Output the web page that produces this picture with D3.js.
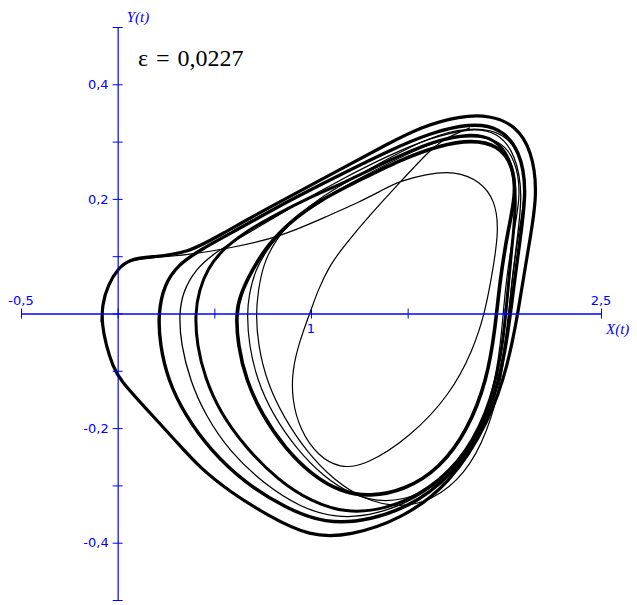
<!DOCTYPE html>
<html>
<head>
<meta charset="utf-8">
<script src="https://cdn.jsdelivr.net/npm/d3@7"></script>
<style>
body { margin: 0; background: #fff; }
</style>
</head>
<body>
<div id="svgContainer"></div>
<script>
// axis ticks and labels
var xTicks = [-0.5, 0, 0.5, 1, 1.5, 2, 2.5];
var xLabelValues = [-0.5, 1, 2.5];
var xLabelTexts = ["-0,5", "1", "2,5"];
var yTicks = [-0.5, -0.4, -0.3, -0.2, -0.1, 0, 0.1, 0.2, 0.3, 0.4, 0.5];
var yLabelValues = [0.4, 0.2, -0.2, -0.4];
var yLabelTexts = ["0,4", "0,2", "-0,2", "-0,4"];
var epsLabel = "\u03b5 = 0,0227";

// loops of the trajectory as [X, Y]
var loopOuter = [[0.359,0.104],[0.167,0.099],[0.064,0.095],[0.002,0.079],[-0.050,0.050],[-0.081,0.015],[-0.081,-0.020],[-0.060,-0.055],[-0.024,-0.093],[0.012,-0.116],[0.152,-0.168],[0.297,-0.221],[0.426,-0.270],[0.581,-0.311],[0.772,-0.352],[0.995,-0.390],[1.202,-0.388],[1.460,-0.360],[1.719,-0.299],[1.926,-0.186],[2.019,-0.090],[2.071,0.001],[2.122,0.111],[2.174,0.207],[2.143,0.285],[2.055,0.329],[1.926,0.346],[1.771,0.345],[1.564,0.325],[1.408,0.298],[1.098,0.242],[0.762,0.181],[0.555,0.142]];
var loopB = [[0.209,-0.001],[0.219,-0.055],[0.260,-0.116],[0.348,-0.177],[0.478,-0.238],[0.659,-0.296],[0.865,-0.339],[1.072,-0.367],[1.305,-0.362],[1.564,-0.329],[1.781,-0.264],[1.936,-0.168],[2.008,-0.064],[2.040,0.024],[2.081,0.128],[2.117,0.216],[2.081,0.285],[1.977,0.325],[1.822,0.332],[1.615,0.315],[1.408,0.285],[1.150,0.242],[0.891,0.198],[0.633,0.149],[0.426,0.111],[0.312,0.085],[0.240,0.050]];
var loopC = [[0.317,-0.001],[0.328,-0.055],[0.374,-0.116],[0.452,-0.177],[0.581,-0.242],[0.762,-0.299],[0.943,-0.338],[1.124,-0.357],[1.331,-0.353],[1.590,-0.317],[1.796,-0.252],[1.941,-0.160],[2.003,-0.064],[2.029,0.024],[2.065,0.128],[2.096,0.207],[2.060,0.277],[1.967,0.317],[1.822,0.324],[1.615,0.306],[1.408,0.277],[1.150,0.233],[0.917,0.189],[0.684,0.142],[0.503,0.107],[0.400,0.076],[0.338,0.038]];
var loopD = [[0.400,-0.001],[0.410,-0.055],[0.452,-0.113],[0.529,-0.172],[0.659,-0.233],[0.829,-0.291],[1.005,-0.329],[1.176,-0.348],[1.383,-0.343],[1.615,-0.308],[1.812,-0.242],[1.936,-0.151],[1.993,-0.055],[2.014,0.024],[2.040,0.120],[2.065,0.198],[2.040,0.268],[1.952,0.306],[1.812,0.315],[1.615,0.299],[1.408,0.268],[1.176,0.229],[0.995,0.203],[0.814,0.172],[0.659,0.142],[0.540,0.111],[0.467,0.079],[0.421,0.041]];
var loopE = [[0.612,-0.001],[0.622,-0.055],[0.664,-0.116],[0.747,-0.177],[0.865,-0.235],[1.005,-0.282],[1.150,-0.311],[1.305,-0.320],[1.486,-0.308],[1.667,-0.270],[1.812,-0.203],[1.910,-0.116],[1.952,-0.029],[1.977,0.058],[2.019,0.146],[2.060,0.207],[2.045,0.259],[1.967,0.294],[1.833,0.303],[1.667,0.294],[1.460,0.268],[1.253,0.233],[1.046,0.198],[0.891,0.160],[0.777,0.120],[0.695,0.076],[0.633,0.032]];
var loopF = [[0.669,-0.001],[0.679,-0.055],[0.721,-0.116],[0.803,-0.177],[0.922,-0.235],[1.062,-0.284],[1.212,-0.317],[1.383,-0.331],[1.564,-0.318],[1.745,-0.277],[1.874,-0.207],[1.957,-0.116],[1.988,-0.029],[2.008,0.058],[2.050,0.146],[2.086,0.207],[2.060,0.268],[1.977,0.303],[1.833,0.311],[1.667,0.303],[1.460,0.273],[1.253,0.236],[1.046,0.198],[0.902,0.163],[0.788,0.120],[0.710,0.076],[0.679,0.032]];
var loopG = [[0.715,-0.001],[0.726,-0.055],[0.772,-0.120],[0.860,-0.182],[0.979,-0.242],[1.119,-0.291],[1.274,-0.325],[1.450,-0.339],[1.626,-0.327],[1.796,-0.282],[1.915,-0.207],[1.988,-0.113],[2.019,-0.020],[2.040,0.067],[2.081,0.154],[2.112,0.212],[2.086,0.277],[1.998,0.315],[1.853,0.325],[1.667,0.315],[1.460,0.282],[1.253,0.243],[1.057,0.205],[0.917,0.167],[0.814,0.128],[0.752,0.085],[0.726,0.038]];
var loops = [loopOuter, loopB, loopC, loopD, loopE, loopF, loopG];

// the inner pass that leaves the core and joins the outer loop
var innerPath = [[1.822,0.324],[1.693,0.306],[1.615,0.285],[1.460,0.229],[1.305,0.172],[1.176,0.120],[1.098,0.085],[1.036,0.041],[0.995,0.001],[0.943,-0.046],[0.902,-0.099],[0.902,-0.151],[0.943,-0.203],[1.036,-0.249],[1.150,-0.270],[1.279,-0.266],[1.512,-0.216],[1.719,-0.142],[1.838,-0.064],[1.900,0.001],[1.941,0.076],[1.972,0.146],[1.952,0.198],[1.874,0.231],[1.745,0.249],[1.590,0.243],[1.460,0.231],[1.372,0.216],[1.253,0.195],[1.098,0.172],[0.839,0.133],[0.581,0.114],[0.359,0.102],[0.167,0.097],[0.064,0.093],[0.002,0.079],[-0.050,0.050],[-0.081,0.015],[-0.086,-0.015]];

// styles
var loopWidths = [3.2, 3.4, 1.3, 3, 3.6, 1.2, 1.2];
var axisColor = "#0000ff";

var svgWidth = 637;
var svgHeight = 605;
var svg = d3.select("#svgContainer").append("svg")
	.attr("width", svgWidth)
	.attr("height", svgHeight)
	.style("background-color", "#ffffff");

var x = d3.scaleLinear().domain([-0.5, 2.5]).range([21, 601]);
var y = d3.scaleLinear().domain([-0.5, 0.5]).range([600, 27]);

var line = d3.line()
	.x(function(d){ return x(d[0]); })
	.y(function(d){ return y(d[1]); });

// closed loops
svg.append("g").selectAll("path")
	.data(loops)
	.enter()
	.append("path")
	.attr("d", function(d){ return line.curve(d3.curveBasisClosed)(d); })
	.attr("fill", "none")
	.attr("stroke", "#000")
	.attr("stroke-width", function(d,i){ return loopWidths[i]; })
	.attr("stroke-linejoin", "round");

svg.append("path")
	.attr("d", line.curve(d3.curveBasis)(innerPath))
	.attr("fill", "none")
	.attr("stroke", "#000")
	.attr("stroke-width", 1.2);

// x axis
var xAxis = svg.append("g")
	.attr("transform", "translate(0," + y(0) + ")")
	.call(d3.axisBottom(x).tickValues(xTicks).tickSize(5).tickSizeOuter(0).tickFormat(""));
xAxis.select(".domain").attr("stroke", axisColor).attr("stroke-width", 1.5);
xAxis.selectAll(".tick line").attr("y1", -5).attr("y2", 5).attr("stroke", axisColor);

// y axis
var yAxis = svg.append("g")
	.attr("transform", "translate(" + x(0) + ",0)")
	.call(d3.axisLeft(y).tickValues(yTicks).tickSize(5).tickSizeOuter(0).tickFormat(""));
yAxis.select(".domain").attr("stroke", axisColor).attr("stroke-width", 1.2);
yAxis.selectAll(".tick line").attr("x1", -5).attr("x2", 5).attr("stroke", axisColor);

// tick labels
svg.append("g").selectAll("text")
	.data(xLabelValues)
	.enter()
	.append("text")
	.attr("x", function(d){ return x(d); })
	.attr("y", function(d){ return d == 1 ? y(0) + 19 : y(0) - 9; })
	.attr("text-anchor", "middle")
	.attr("font-family", "DejaVu Sans, sans-serif")
	.attr("font-size", 13)
	.attr("fill", axisColor)
	.text(function(d,i){ return xLabelTexts[i]; });

svg.append("g").selectAll("text")
	.data(yLabelValues)
	.enter()
	.append("text")
	.attr("x", x(0) - 9)
	.attr("y", function(d){ return y(d); })
	.attr("dy", "0.36em")
	.attr("text-anchor", "end")
	.attr("font-family", "DejaVu Sans, sans-serif")
	.attr("font-size", 13)
	.attr("fill", axisColor)
	.text(function(d,i){ return yLabelTexts[i]; });

// axis names
svg.append("text")
	.attr("x", x(2.5) + 5)
	.attr("y", y(0) + 20)
	.attr("font-family", "Liberation Serif, serif")
	.attr("font-style", "italic")
	.attr("font-size", 15)
	.attr("fill", axisColor)
	.text("X(t)");

svg.append("text")
	.attr("x", x(0) + 9)
	.attr("y", y(0.5) - 5)
	.attr("font-family", "Liberation Serif, serif")
	.attr("font-style", "italic")
	.attr("font-size", 15)
	.attr("fill", axisColor)
	.text("Y(t)");

// parameter
svg.append("text")
	.attr("x", 138)
	.attr("y", 66)
	.attr("font-family", "Liberation Serif, serif")
	.attr("font-size", 24)
	.attr("word-spacing", 2)
	.attr("fill", "#000")
	.text(epsLabel);
</script>
</body>
</html>
